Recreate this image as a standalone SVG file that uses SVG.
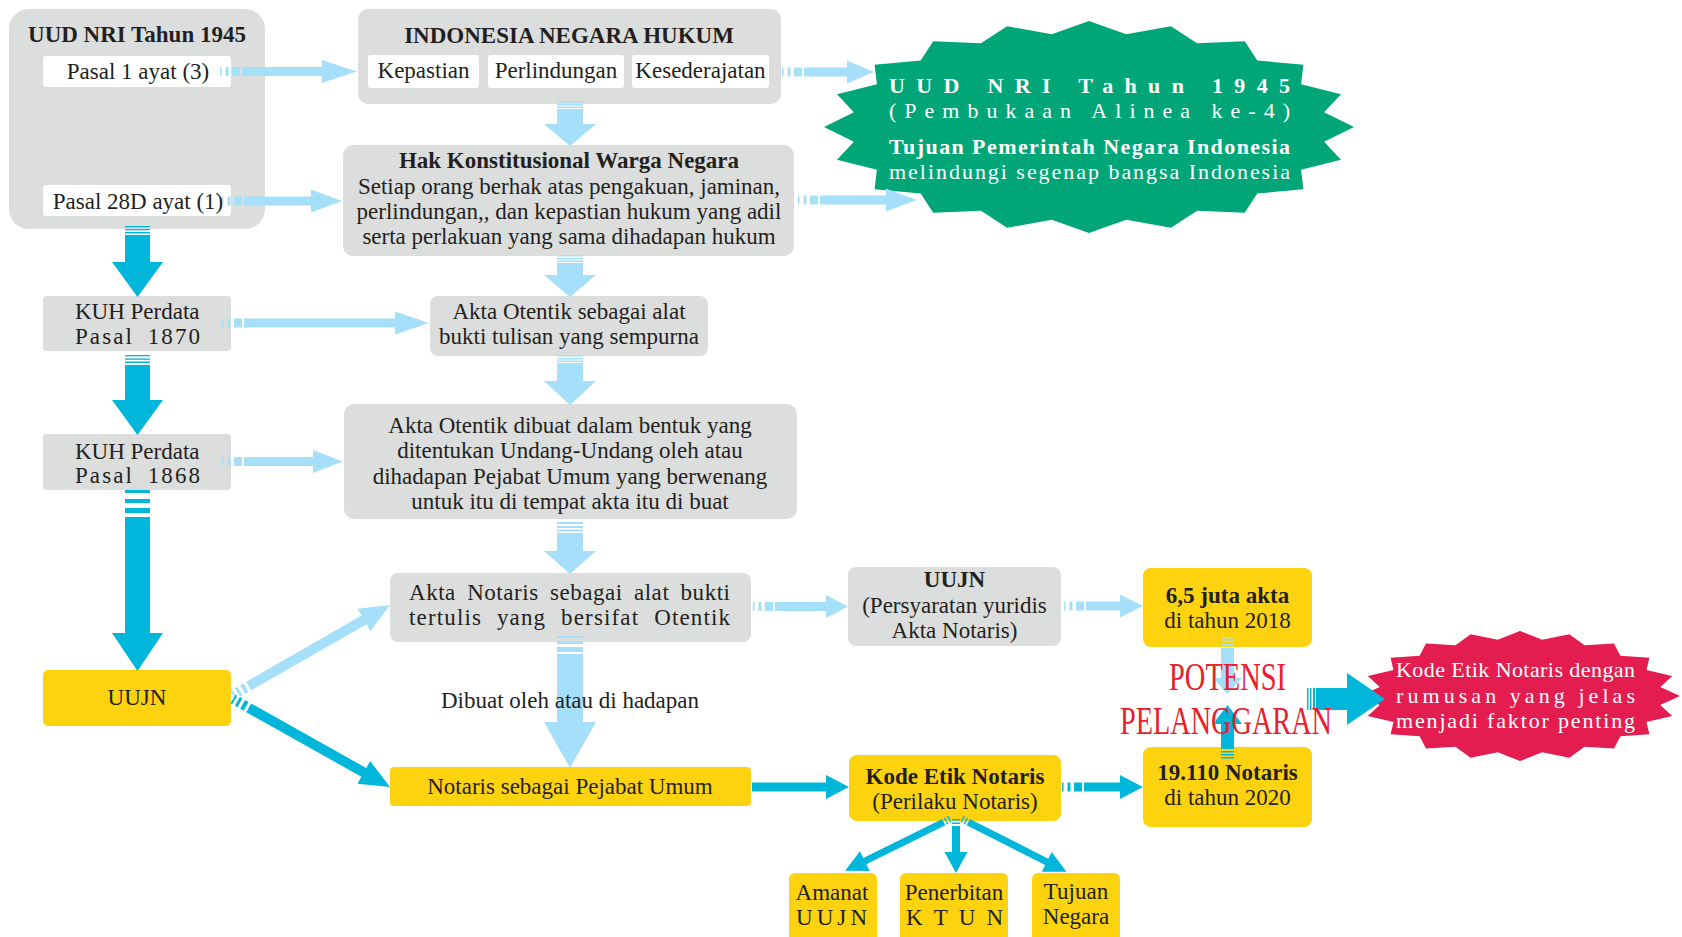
<svg xmlns="http://www.w3.org/2000/svg" width="1682" height="937" viewBox="0 0 1682 937">
<style>
text{font-family:"Liberation Serif","Times New Roman",serif;fill:#231f20;font-size:23px}
.b{font-weight:bold}
.m{text-anchor:middle}
.wt{fill:#ffffff;font-size:22px}
.g{fill:#dcdddd}
.y{fill:#fdd20e}
.wh{fill:#ffffff}
.lb{fill:#a6dff9}
.db{fill:#00b7db}
.red{fill:#e8202d;font-size:39px}
</style>
<rect width="1682" height="937" fill="#ffffff"/>

<g id="uud1945">
<rect class="g" x="9" y="9" width="256" height="220" rx="20"/>
<text class="b m" x="137" y="42" font-size="22.5">UUD NRI Tahun 1945</text>
</g>
<g id="pasal1">
<rect class="wh" x="43" y="56" width="188" height="31" rx="3"/>
<text class="m" x="138" y="78.5">Pasal 1 ayat (3)</text>
</g>
<g id="pasal28d">
<rect class="wh" x="43" y="185" width="188" height="31" rx="3"/>
<text class="m" x="138" y="208.5">Pasal 28D ayat (1)</text>
</g>

<g id="negara-hukum">
<rect class="g" x="358" y="9" width="423" height="95" rx="10"/>
<text class="b m" x="569" y="43">INDONESIA NEGARA HUKUM</text>
<rect class="wh" x="368" y="55" width="111" height="33" rx="3"/>
<text class="m" x="423.5" y="78">Kepastian</text>
<rect class="wh" x="488" y="55" width="136" height="33" rx="3"/>
<text class="m" x="556" y="78">Perlindungan</text>
<rect class="wh" x="632" y="55" width="137" height="33" rx="3"/>
<text class="m" x="700.5" y="78">Kesederajatan</text>
</g>

<g id="hak-konstitusional">
<rect class="g" x="343" y="145" width="451" height="111" rx="10"/>
<text class="b m" x="569" y="168">Hak Konstitusional Warga Negara</text>
<text class="m" x="569" y="193.5">Setiap orang berhak atas pengakuan, jaminan,</text>
<text class="m" x="569" y="219">perlindungan,, dan kepastian hukum yang adil</text>
<text class="m" x="569" y="244">serta perlakuan yang sama dihadapan hukum</text>
</g>

<g id="tujuan-star">
<polygon fill="#00a677" points="1089,21 1126.2,34.2 1170.9,26.2 1197.1,43.2 1244.8,41.2 1257.3,60.5 1303.4,64.7 1301.1,84.3 1341,94.2 1324.1,112.3 1354,127 1324.1,141.7 1341,159.8 1301.1,169.7 1303.4,189.3 1257.3,193.5 1244.8,212.8 1197.1,210.8 1170.9,227.8 1126.2,219.8 1089,233 1051.8,219.8 1007.1,227.8 980.9,210.8 933.2,212.8 920.7,193.5 874.6,189.3 876.9,169.7 837,159.8 853.9,141.7 824,127 853.9,112.3 837,94.2 876.9,84.3 874.6,64.7 920.7,60.5 933.2,41.2 980.9,43.2 1007.1,26.2 1051.8,34.2"/>
<text class="wt b" x="889" y="93" textLength="401" lengthAdjust="spacing">UUD NRI Tahun 1945</text>
<text class="wt" x="889" y="118" textLength="401" lengthAdjust="spacing">(Pembukaan Alinea ke-4)</text>
<text class="wt b" x="889" y="154" textLength="401" lengthAdjust="spacing">Tujuan Pemerintah Negara Indonesia</text>
<text class="wt" x="889" y="179" textLength="401" lengthAdjust="spacing">melindungi segenap bangsa Indonesia</text>
</g>

<g id="kuh1870">
<rect class="g" x="43" y="296" width="188" height="55" rx="4"/>
<text x="75" y="318.5">KUH Perdata</text>
<text x="75" y="343.5" textLength="125" lengthAdjust="spacing" word-spacing="6">Pasal 1870</text>
</g>
<g id="akta-otentik-alat">
<rect class="g" x="430" y="296" width="278" height="60" rx="8"/>
<text class="m" x="569" y="318.5">Akta Otentik sebagai alat</text>
<text class="m" x="569" y="343.5">bukti tulisan yang sempurna</text>
</g>
<g id="kuh1868">
<rect class="g" x="43" y="434" width="188" height="56" rx="4"/>
<text x="75" y="458.5">KUH Perdata</text>
<text x="75" y="482.5" textLength="125" lengthAdjust="spacing" word-spacing="6">Pasal 1868</text>
</g>
<g id="akta-otentik-dibuat">
<rect class="g" x="344" y="404" width="453" height="115" rx="10"/>
<text class="m" x="570" y="432.5">Akta Otentik dibuat dalam bentuk yang</text>
<text class="m" x="570" y="458">ditentukan Undang-Undang oleh atau</text>
<text class="m" x="570" y="483.5">dihadapan Pejabat Umum yang berwenang</text>
<text class="m" x="570" y="508.5">untuk itu di tempat akta itu di buat</text>
</g>
<g id="akta-notaris">
<rect class="g" x="390" y="573" width="361" height="69" rx="8"/>
<text x="409" y="599.5" textLength="321" lengthAdjust="spacing" word-spacing="5">Akta Notaris sebagai alat bukti</text>
<text x="409" y="624.5" textLength="321" lengthAdjust="spacing" word-spacing="8">tertulis yang bersifat Otentik</text>
</g>
<g id="uujn-left">
<rect class="y" x="43" y="670" width="188" height="56" rx="5"/>
<text class="m" x="137" y="705">UUJN</text>
</g>
<g id="notaris-pejabat">
<rect class="y" x="390" y="767" width="361" height="39" rx="4"/>
<text class="m" x="570" y="793.5">Notaris sebagai Pejabat Umum</text>
</g>
<g id="uujn-persyaratan">
<rect class="g" x="848" y="567" width="213" height="79" rx="8"/>
<text class="b m" x="954.5" y="587">UUJN</text>
<text class="m" x="954.5" y="612.5">(Persyaratan yuridis</text>
<text class="m" x="954.5" y="637.5">Akta Notaris)</text>
</g>
<g id="kode-etik">
<rect class="y" x="849" y="755" width="212" height="66" rx="8"/>
<text class="b m" x="955" y="783.5">Kode Etik Notaris</text>
<text class="m" x="955" y="808.5">(Perilaku Notaris)</text>
</g>
<g id="juta-akta">
<rect class="y" x="1143" y="568" width="169" height="79" rx="8"/>
<text class="b m" x="1227.5" y="602.5">6,5 juta akta</text>
<text class="m" x="1227.5" y="627.5">di tahun 2018</text>
</g>
<g id="notaris-2020">
<rect class="y" x="1143" y="747" width="169" height="80" rx="8"/>
<text class="b m" x="1227.5" y="780">19.110 Notaris</text>
<text class="m" x="1227.5" y="805">di tahun 2020</text>
</g>
<g id="amanat-uujn">
<rect class="y" x="789" y="873" width="88" height="75" rx="6"/>
<text class="m" x="832" y="900">Amanat</text>
<text x="796" y="925" textLength="71" lengthAdjust="spacing">UUJN</text>
</g>
<g id="penerbitan-ktun">
<rect class="y" x="900" y="873" width="108" height="75" rx="6"/>
<text class="m" x="954" y="900">Penerbitan</text>
<text x="906" y="925" textLength="97" lengthAdjust="spacing">KTUN</text>
</g>
<g id="tujuan-negara">
<rect class="y" x="1032" y="873" width="88" height="75" rx="6"/>
<text class="m" x="1076" y="899">Tujuan</text>
<text class="m" x="1076" y="924">Negara</text>
</g>

<g id="kode-etik-star">
<polygon fill="#e31d4f" points="1520,631 1542.2,639.7 1569.4,634.2 1584.5,645.2 1614,643.4 1620.4,655.7 1649.4,657.8 1646.5,670.1 1672.2,675.9 1660.3,687.1 1680,696 1660.3,704.9 1672.2,716.1 1646.5,721.9 1649.4,734.2 1620.4,736.3 1614,748.6 1584.5,746.8 1569.4,757.8 1542.2,752.3 1520,761 1497.8,752.3 1470.6,757.8 1455.5,746.8 1426,748.6 1419.6,736.3 1390.6,734.2 1393.5,721.9 1367.8,716.1 1379.7,704.9 1360,696 1379.7,687.1 1367.8,675.9 1393.5,670.1 1390.6,657.8 1419.6,655.7 1426,643.4 1455.5,645.2 1470.6,634.2 1497.8,639.7"/>
<text class="wt" x="1396" y="677" textLength="239" lengthAdjust="spacing">Kode Etik Notaris dengan</text>
<text class="wt" x="1396" y="703" textLength="239" lengthAdjust="spacing">rumusan yang jelas</text>
<text class="wt" x="1396" y="728" textLength="239" lengthAdjust="spacing">menjadi faktor penting</text>
</g>

<g id="connectors">
<g class="lb">
<rect x="220" y="67" width="1.5" height="9"/><rect x="225.5" y="67" width="3" height="9"/><rect x="232" y="67" width="8" height="9"/>
<path d="M242,67 H322 V60 L357,71.5 L322,83 V76 H242 Z"/>
<rect x="782" y="67.5" width="1.5" height="9"/><rect x="787.5" y="67.5" width="3" height="9"/><rect x="794" y="67.5" width="8" height="9"/>
<path d="M804,67.5 H847 V60.5 L874,72 L847,83.5 V76.5 H804 Z"/>
<rect x="222" y="196.5" width="1.5" height="9"/><rect x="227.5" y="196.5" width="3" height="9"/><rect x="234" y="196.5" width="8" height="9"/>
<path d="M244,196.5 H311 V189.5 L342,201 L311,212.5 V205.5 H244 Z"/>
<rect x="798" y="195.5" width="1.5" height="9"/><rect x="803.5" y="195.5" width="3" height="9"/><rect x="810" y="195.5" width="8" height="9"/>
<path d="M820,195.5 H886 V188.5 L917,200 L886,211.5 V204.5 H820 Z"/>
<rect x="222" y="318.5" width="1.5" height="9"/><rect x="227.5" y="318.5" width="3" height="9"/><rect x="234" y="318.5" width="8" height="9"/>
<path d="M244,318.5 H395 V311.5 L429,323 L395,334.5 V327.5 H244 Z"/>
<rect x="222" y="457" width="1.5" height="9"/><rect x="227.5" y="457" width="3" height="9"/><rect x="234" y="457" width="8" height="9"/>
<path d="M244,457 H313 V450 L343,461.5 L313,473 V466 H244 Z"/>
<rect x="753" y="602" width="1.5" height="9"/><rect x="758.5" y="602" width="3" height="9"/><rect x="765" y="602" width="8" height="9"/>
<path d="M775,602 H826 V595 L848,606.5 L826,618 V611 H775 Z"/>
<rect x="1064" y="601.5" width="1.5" height="9"/><rect x="1069.5" y="601.5" width="3" height="9"/><rect x="1076" y="601.5" width="8" height="9"/>
<path d="M1086,601.5 H1120 V594.5 L1143,606 L1120,617.5 V610.5 H1086 Z"/>
<rect x="557" y="101" width="26" height="1.5"/><rect x="557" y="104" width="26" height="1.5"/><rect x="557" y="106.5" width="26" height="1.5"/>
<path d="M557,109 V124 H544 L570,146 L596,124 H583 V109 Z"/>
<rect x="557" y="255" width="26" height="1.5"/><rect x="557" y="258" width="26" height="1.5"/><rect x="557" y="260.5" width="26" height="1.5"/>
<path d="M557,263 V275 H544 L570,297 L596,275 H583 V263 Z"/>
<rect x="557" y="355" width="26" height="1.5"/><rect x="557" y="358" width="26" height="1.5"/><rect x="557" y="360.5" width="26" height="1.5"/>
<path d="M557,363 V381 H544 L570,405 L596,381 H583 V363 Z"/>
<rect x="557" y="522" width="26" height="2"/><rect x="557" y="526" width="26" height="2"/><rect x="557" y="529.5" width="26" height="2"/>
<path d="M557,533 V551 H544 L570,574 L596,551 H583 V533 Z"/>
<rect x="557" y="636" width="26" height="2"/><rect x="557" y="641" width="26" height="3"/><rect x="557" y="647" width="26" height="5"/>
<path d="M557,654 V722 H544 L570,768 L596,722 H583 V654 Z"/>
<rect x="1221" y="637" width="13" height="1.5"/><rect x="1221" y="640.5" width="13" height="1.5"/><rect x="1221" y="644" width="13" height="2"/>
<path d="M1221,648 V678 H1213 L1227.5,694 L1242,678 H1234 V648 Z"/>
<g transform="translate(233,695) rotate(-29.8)">
<rect x="0" y="-5" width="2" height="10"/><rect x="5" y="-5" width="3" height="10"/><rect x="11" y="-5" width="4" height="10"/>
<path d="M18,-5 H151 V-13 L181,0 L151,13 V5 H18 Z"/>
</g>
</g>
<g class="db">
<rect x="125" y="226" width="25" height="1.3"/><rect x="125" y="229" width="25" height="1.3"/><rect x="125" y="232" width="25" height="1.5"/>
<path d="M125,235 V262 H112 L137.5,297 L163,262 H150 V235 Z"/>
<rect x="125" y="355" width="25" height="1.3"/><rect x="125" y="358.5" width="25" height="1.3"/><rect x="125" y="361.5" width="25" height="1.5"/>
<path d="M125,365 V400 H112 L137.5,435 L163,400 H150 V365 Z"/>
<rect x="125" y="490" width="25" height="3"/><rect x="125" y="499" width="25" height="4"/><rect x="125" y="508" width="25" height="5"/>
<path d="M125,517 V633 H112 L137.5,671 L163,633 H150 V517 Z"/>
<g transform="translate(233,699) rotate(29.3)">
<rect x="0" y="-5" width="2" height="10"/><rect x="5" y="-5" width="3" height="10"/><rect x="11" y="-5" width="4" height="10"/>
<path d="M18,-5 H150 V-13 L180,0 L150,13 V5 H18 Z"/>
</g>
<path d="M752,782.5 H826 V775 L849,787 L826,799 V791.5 H752 Z"/>
<rect x="1062" y="782.5" width="1.5" height="9"/><rect x="1067.5" y="782.5" width="3" height="9"/><rect x="1074" y="782.5" width="8" height="9"/>
<path d="M1084,782.5 H1120 V775 L1143,787 L1120,799 V791.5 H1084 Z"/>
<g transform="translate(950,819) rotate(153.7)">
<rect x="0" y="-3.5" width="1.5" height="7"/><rect x="3.5" y="-3.5" width="1.5" height="7"/>
<path d="M7,-3.5 H95 V-11 L117,0 L95,11 V3.5 H7 Z"/>
</g>
<g transform="translate(956,819) rotate(90)">
<rect x="0" y="-4" width="1.5" height="8"/><rect x="3.5" y="-4" width="1.5" height="8"/>
<path d="M7,-4 H33 V-11.5 L54,0 L33,11.5 V4 H7 Z"/>
</g>
<g transform="translate(962,819) rotate(26.8)">
<rect x="0" y="-3.5" width="1.5" height="7"/><rect x="3.5" y="-3.5" width="1.5" height="7"/>
<path d="M7,-3.5 H95 V-11 L117,0 L95,11 V3.5 H7 Z"/>
</g>
<rect x="1221" y="751" width="13" height="1.5"/><rect x="1221" y="754" width="13" height="1.5"/><rect x="1221" y="757" width="13" height="1.5"/>
<path d="M1221,749 V724 H1213 L1227.5,705 L1242,724 H1234 V749 Z"/>
<rect x="1307" y="688" width="1.5" height="22"/><rect x="1310" y="688" width="1.5" height="22"/><rect x="1313" y="688" width="2" height="22"/>
<path d="M1316,688 H1347 V673 L1385,699 L1347,725 V710 H1316 Z"/>
</g>
</g>

<g id="label-dibuat">
<text class="m" x="570" y="708">Dibuat oleh atau di hadapan</text>
</g>
<g id="label-potensi">
<text class="red" x="1169" y="690" textLength="117" lengthAdjust="spacingAndGlyphs">POTENSI</text>
<text class="red" x="1120" y="734" textLength="212" lengthAdjust="spacingAndGlyphs">PELANGGARAN</text>
</g>
</svg>
